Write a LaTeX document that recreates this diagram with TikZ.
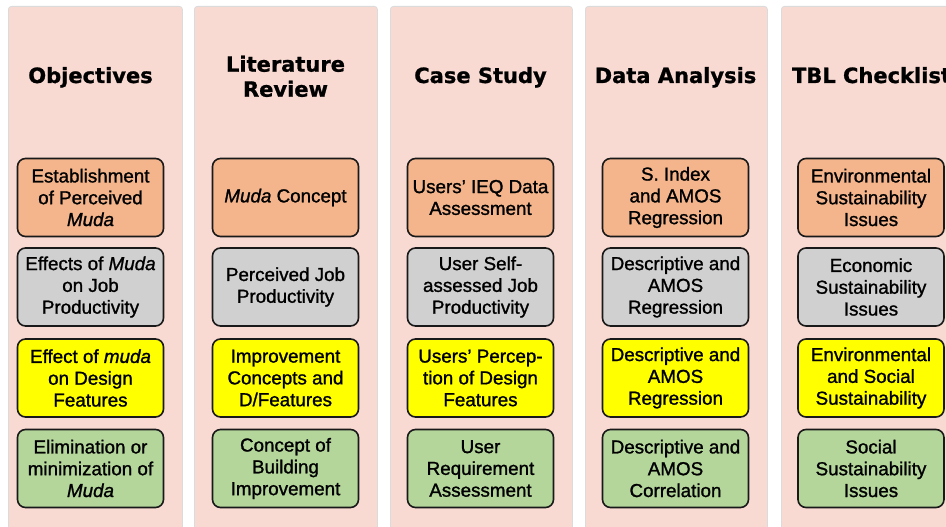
\documentclass[tikz,border=0pt]{standalone}
\usepackage{fontspec}
\setmainfont[FakeBold=1.2]{Liberation Sans}
\newfontfamily\headfont[FakeBold=1.0]{DejaVu Sans Bold}
\definecolor{panelpink}{RGB}{249,218,210}
\definecolor{boxorange}{RGB}{244,181,140}
\definecolor{boxgray}{RGB}{208,208,208}
\definecolor{boxyellow}{RGB}{255,255,0}
\definecolor{boxgreen}{RGB}{180,214,155}
\tikzset{
  panel/.style={fill=panelpink, draw=black!14, line width=0.8pt, rounded corners=3pt,
    minimum height=580pt, anchor=north west, inner sep=0pt},
  header/.style={font=\headfont\fontsize{21}{25}\selectfont, align=center, inner sep=0pt},
  item/.style={draw=black!90, line width=1.6pt, rounded corners=8pt,
    minimum width=146pt, minimum height=78pt, inner sep=0pt, align=center,
    font=\fontsize{18.8}{21.8}\selectfont, text=black},
  orangebox/.style={item, fill=boxorange},
  graybox/.style={item, fill=boxgray},
  yellowbox/.style={item, fill=boxyellow},
  greenbox/.style={item, fill=boxgreen}
}
\begin{document}
\begin{tikzpicture}[x=1pt, y=-1pt]
\useasboundingbox (0,0) rectangle (946,527);
\clip (0,0) rectangle (946,527);
\fill[white] (0,0) rectangle (946,527);
% panels
\node[panel, minimum width=174pt] (p1) at (8,6) {};
\node[panel, minimum width=183pt] (p2) at (194,6) {};
\node[panel, minimum width=182pt] (p3) at (390,6) {};
\node[panel, minimum width=182pt] (p4) at (585,6) {};
\node[panel, minimum width=182pt] (p5) at (781,6) {};
% headers
\node[header, anchor=base] (h1) at (90.5,83) {Objectives};
\node[header, anchor=base] (h2) at (285.5,96.7) {Literature\\Review};
\node[header, anchor=base] (h3) at (480.5,83) {Case Study};
\node[header, anchor=base] (h4) at (675.5,83) {Data Analysis};
\node[header, anchor=base] (h5) at (871.5,83) {TBL Checklist};
% column 1
\node[orangebox] (a1) at (90.5,197.5) {Establishment\\of Perceived\\\textit{Muda}};
\node[graybox]   (a2) at (90.5,287) {Effects of \textit{Muda}\\on Job\\Productivity};
\node[yellowbox] (a3) at (90.5,378) {Effect of \textit{muda}\\on Design\\Features};
\node[greenbox]  (a4) at (90.5,468.5) {Elimination or\\minimization of\\\textit{Muda}};
% column 2
\node[orangebox] (b1) at (285.5,197.5) {\textit{Muda} Concept};
\node[graybox]   (b2) at (285.5,287) {Perceived Job\\Productivity};
\node[yellowbox] (b3) at (285.5,378) {Improvement\\Concepts and\\D/Features};
\node[greenbox]  (b4) at (285.5,468.5) {Concept of\\Building\\Improvement};
% column 3
\node[orangebox] (c1) at (480.5,197.5) {Users' IEQ Data\\Assessment};
\node[graybox]   (c2) at (480.5,287) {User Self-\\assessed Job\\Productivity};
\node[yellowbox] (c3) at (480.5,378) {Users' Percep-\\tion of Design\\Features};
\node[greenbox]  (c4) at (480.5,468.5) {User\\Requirement\\Assessment};
% column 4
\node[orangebox] (d1) at (675.5,197.5) {S. Index\\and AMOS\\Regression};
\node[graybox]   (d2) at (675.5,287) {Descriptive and\\AMOS\\Regression};
\node[yellowbox] (d3) at (675.5,378) {Descriptive and\\AMOS\\Regression};
\node[greenbox]  (d4) at (675.5,468.5) {Descriptive and\\AMOS\\Correlation};
% column 5
\node[orangebox] (e1) at (871,197.5) {Environmental\\Sustainability\\Issues};
\node[graybox]   (e2) at (871,287) {Economic\\Sustainability\\Issues};
\node[yellowbox] (e3) at (871,378) {Environmental\\and Social\\Sustainability};
\node[greenbox]  (e4) at (871,468.5) {Social\\Sustainability\\Issues};
\end{tikzpicture}
\end{document}
